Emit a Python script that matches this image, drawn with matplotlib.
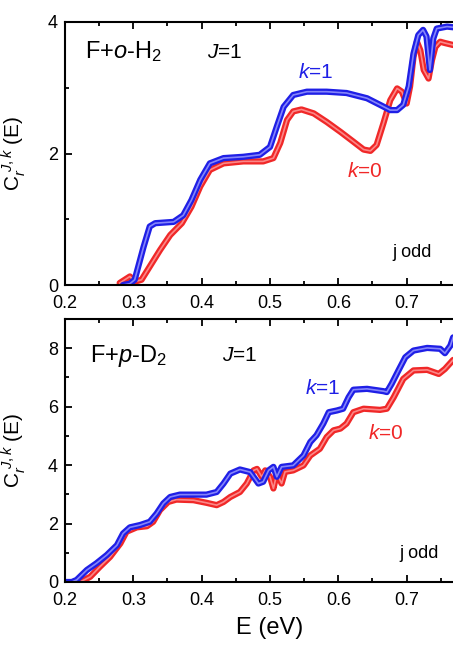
import matplotlib
matplotlib.use('Agg')
import matplotlib.pyplot as plt
import numpy as np

plt.rcParams['font.family'] = ['Liberation Sans', 'DejaVu Sans']
plt.rcParams['mathtext.fontset'] = 'custom'
plt.rcParams['mathtext.rm'] = 'Liberation Sans'
plt.rcParams['mathtext.it'] = 'Liberation Sans:italic'

# F + o-H2, J=1
e_h2_k1 = [0.285, 0.295, 0.302, 0.315, 0.324, 0.332, 0.359, 0.373, 0.385, 0.398, 0.412, 0.432,
           0.461, 0.485, 0.50, 0.51, 0.52, 0.534, 0.554, 0.583, 0.612, 0.642, 0.661, 0.676,
           0.686, 0.695, 0.703, 0.71, 0.717, 0.724, 0.729, 0.734, 0.739, 0.744, 0.759, 0.768]
c_h2_k1 = [0.0, 0.02, 0.08, 0.58, 0.89, 0.94, 0.96, 1.06, 1.29, 1.60, 1.85, 1.93,
           1.95, 1.98, 2.10, 2.41, 2.71, 2.89, 2.94, 2.94, 2.92, 2.84, 2.74, 2.66,
           2.66, 2.74, 3.02, 3.52, 3.80, 3.88, 3.78, 3.27, 3.75, 3.90, 3.93, 3.92]
e_h2_k0 = [0.28, 0.295, 0.302, 0.312, 0.324, 0.339, 0.354, 0.371, 0.385, 0.398, 0.412, 0.432,
           0.461, 0.49, 0.505, 0.515, 0.525, 0.534, 0.546, 0.564, 0.583, 0.603, 0.622, 0.637,
           0.647, 0.656, 0.666, 0.676, 0.686, 0.693, 0.70, 0.705, 0.71, 0.715, 0.72, 0.725,
           0.732, 0.737, 0.742, 0.749, 0.756, 0.768]
c_h2_k0 = [0.03, 0.13, 0.05, 0.08, 0.28, 0.53, 0.76, 0.94, 1.19, 1.50, 1.75, 1.85,
           1.88, 1.88, 1.93, 2.16, 2.51, 2.64, 2.67, 2.61, 2.48, 2.33, 2.18, 2.06,
           2.04, 2.13, 2.46, 2.81, 2.99, 2.94, 2.76, 3.02, 3.47, 3.70, 3.57, 3.27,
           3.14, 3.42, 3.62, 3.70, 3.68, 3.65]

# F + p-D2, J=1
e_d2_k1 = [0.20, 0.21, 0.217, 0.232, 0.246, 0.261, 0.276, 0.285, 0.295, 0.31, 0.324, 0.334,
           0.344, 0.354, 0.368, 0.388, 0.407, 0.422, 0.432, 0.442, 0.456, 0.471, 0.483, 0.49,
           0.498, 0.505, 0.51, 0.517, 0.534, 0.549, 0.559, 0.568, 0.578, 0.586, 0.598, 0.607,
           0.615, 0.622, 0.642, 0.666, 0.671, 0.678, 0.688, 0.698, 0.71, 0.73, 0.749, 0.756,
           0.764, 0.768]
c_d2_k1 = [0.0, 0.0, 0.07, 0.41, 0.64, 0.92, 1.26, 1.66, 1.87, 1.95, 2.06, 2.34,
           2.69, 2.91, 2.99, 2.99, 2.99, 3.08, 3.37, 3.71, 3.85, 3.76, 3.37, 3.43,
           3.82, 3.94, 3.60, 3.94, 3.99, 4.33, 4.79, 5.02, 5.42, 5.81, 5.87, 5.93,
           6.32, 6.58, 6.61, 6.53, 6.50, 6.78, 7.24, 7.69, 7.92, 8.01, 7.98, 7.83,
           8.09, 8.37]
e_d2_k0 = [0.222, 0.237, 0.251, 0.266, 0.281, 0.29, 0.305, 0.32, 0.329, 0.339, 0.351, 0.363,
           0.388, 0.407, 0.422, 0.432, 0.442, 0.456, 0.466, 0.476, 0.481, 0.488, 0.493, 0.50,
           0.505, 0.51, 0.517, 0.522, 0.534, 0.549, 0.559, 0.573, 0.583, 0.593, 0.603, 0.612,
           0.622, 0.637, 0.661, 0.671, 0.681, 0.695, 0.71, 0.73, 0.747, 0.756, 0.768]
c_d2_k0 = [0.0, 0.18, 0.52, 0.86, 1.32, 1.72, 1.87, 1.91, 2.06, 2.46, 2.74, 2.82,
           2.80, 2.71, 2.63, 2.74, 2.91, 3.08, 3.37, 3.82, 3.87, 3.60, 3.82, 3.60,
           3.20, 3.71, 3.37, 3.77, 3.82, 3.99, 4.33, 4.56, 4.96, 5.19, 5.25, 5.42,
           5.81, 5.93, 5.89, 5.93, 6.32, 6.95, 7.24, 7.26, 7.12, 7.29, 7.60]

blue = '#1f1fe6'
red = '#f02828'

fig = plt.figure(figsize=(4.53, 6.46), dpi=100)
W, H = 453.0, 646.0
ax1 = fig.add_axes([65 / W, 1 - 285 / H, 410 / W, 263 / H])
ax2 = fig.add_axes([65 / W, 1 - 582 / H, 410 / W, 263 / H])


def band(ax, x, y, c, light):
    # thick coloured trace with a pale core, like the dense open symbols of the original
    ax.plot(x, y, color=c, lw=4.5, solid_joinstyle='round', solid_capstyle='round')
    ax.plot(x, y, color=light, lw=1.2, solid_joinstyle='round', alpha=0.8)


band(ax1, e_h2_k0, c_h2_k0, red, '#ffa0a0')
band(ax1, e_h2_k1, c_h2_k1, blue, '#a0a0ff')
band(ax2, e_d2_k0, c_d2_k0, red, '#ffa0a0')
band(ax2, e_d2_k1, c_d2_k1, blue, '#a0a0ff')

ylab = r'C$_{r}^{\ J,k}$ (E)'
for ax, ymax, ymaj in [(ax1, 4, 2), (ax2, 9, 2)]:
    ax.set_xlim(0.2, 0.8)
    ax.set_ylim(0, ymax)
    ax.set_xticks(np.arange(0.2, 0.75, 0.1))
    ax.set_xticklabels(['0.2', '0.3', '0.4', '0.5', '0.6', '0.7'])
    ax.set_xticks(np.arange(0.25, 0.8, 0.1), minor=True)
    ax.set_yticks(np.arange(0, ymax + 0.1, ymaj))
    ax.set_yticks(np.arange(1, ymax, ymaj), minor=True)
    ax.tick_params(which='both', direction='in', top=True, width=1.3, labelsize=13)
    ax.tick_params(which='major', length=5)
    ax.tick_params(which='minor', length=3)
    ax.tick_params(axis='x', pad=7)
    ax.tick_params(axis='y', pad=5)
    for s in ax.spines.values():
        s.set_linewidth(1.5)
    ax.set_ylabel(ylab, fontsize=15)
    ax.yaxis.set_label_coords(-0.09, 0.5)

ax1.text(0.229, 3.45, r'F+$\it{o}$-H$_2$', fontsize=17)
ax1.text(0.408, 3.45, r'$\it{J}$=1', fontsize=15)
ax1.text(0.541, 3.15, r'$\it{k}$=1', fontsize=15, color=blue)
ax1.text(0.613, 1.65, r'$\it{k}$=0', fontsize=15, color=red)
ax1.text(0.679, 0.43, 'j odd', fontsize=13)

ax2.text(0.237, 7.52, r'F+$\it{p}$-D$_2$', fontsize=17)
ax2.text(0.43, 7.55, r'$\it{J}$=1', fontsize=15)
ax2.text(0.551, 6.45, r'$\it{k}$=1', fontsize=15, color=blue)
ax2.text(0.644, 4.91, r'$\it{k}$=0', fontsize=15, color=red)
ax2.text(0.69, 0.82, 'j odd', fontsize=13)
ax2.set_xlabel('E (eV)', fontsize=17, labelpad=6)

fig.savefig('out.png', dpi=100)
